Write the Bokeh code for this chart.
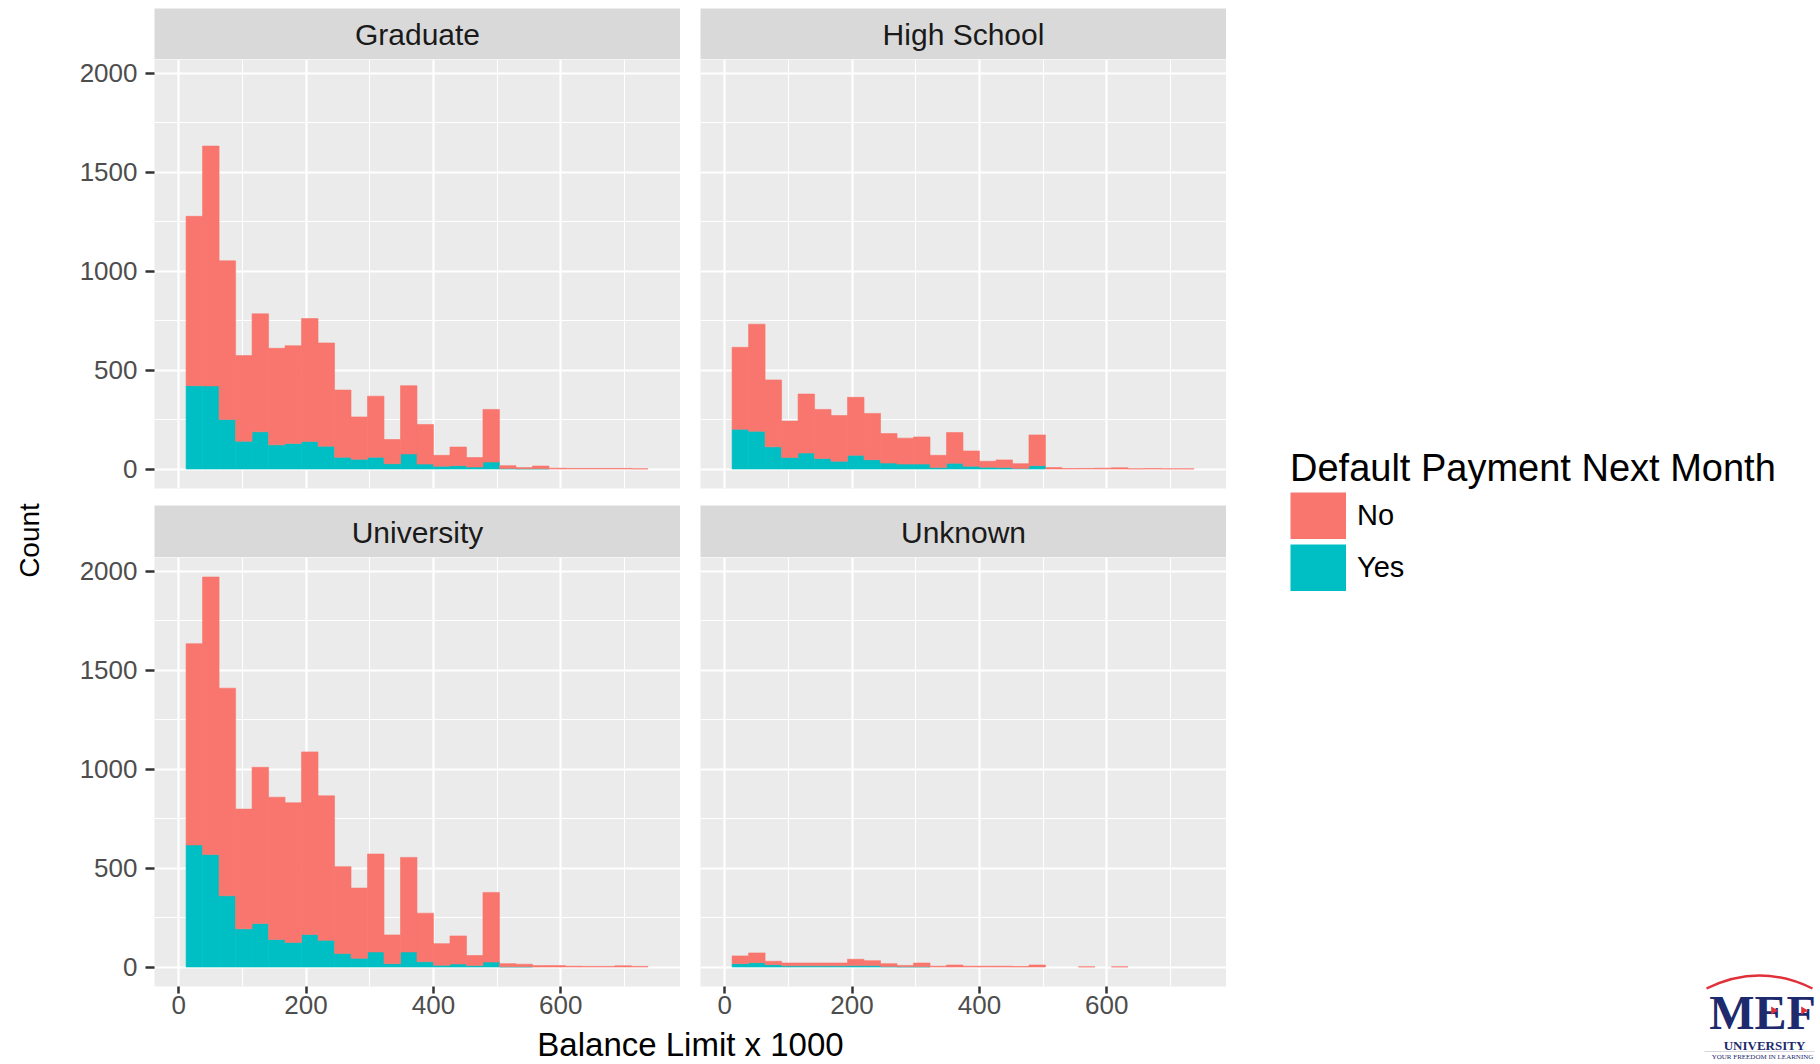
import numpy as np
from bokeh.plotting import figure
from bokeh.layouts import row, column
from bokeh.models import Range1d, FixedTicker, Legend, LegendItem, ColumnDataSource
from bokeh.core.properties import value
from bokeh.embed import file_html
from bokeh.resources import INLINE

# ---------------- data ----------------
FACETS = ["Graduate", "High School", "University", "Unknown"]
BIN_START = 11.6      # left edge of first histogram bin (x 1000)
BIN_WIDTH = 25.9      # histogram bin width (x 1000)

graduate_no = [856, 1212, 802, 433, 596, 488, 494, 621, 522, 340, 214, 309, 122, 345,
               200, 55, 94, 48, 266, 15, 6, 14, 4, 3, 3, 3, 3, 1]
graduate_yes = [421, 420, 250, 140, 188, 122, 129, 139, 115, 59, 49, 59, 27, 76,
                25, 14, 17, 10, 35, 2, 1, 1, 0, 0, 0, 0, 0, 0]

high_school_no = [414, 541, 338, 184, 298, 248, 231, 293, 234, 149, 131, 137, 62, 155,
                  77, 30, 39, 24, 155, 7, 2, 3, 4, 6, 1, 2, 1, 1]
high_school_yes = [201, 191, 112, 58, 81, 53, 39, 69, 47, 30, 25, 25, 7, 29,
                   14, 9, 7, 3, 17, 0, 0, 0, 0, 0, 0, 0, 0, 0]

university_no = [1017, 1403, 1049, 605, 789, 719, 706, 923, 730, 439, 355, 495, 145, 478,
                 245, 109, 142, 51, 352, 16, 13, 7, 7, 4, 3, 3, 6, 3]
university_yes = [617, 568, 360, 193, 220, 139, 124, 164, 135, 68, 44, 76, 17, 76,
                  27, 9, 15, 7, 25, 1, 1, 0, 0, 0, 0, 0, 0, 0]

unknown_no = [39, 49, 17, 14, 14, 14, 14, 32, 25, 15, 7, 19, 4, 10,
              4, 4, 4, 2, 10, 0, 0, 1, 0, 1, 0, 0, 0, 0]
unknown_yes = [17, 22, 12, 6, 6, 6, 6, 7, 7, 2, 1, 1, 0, 0,
               0, 0, 0, 0, 0, 0, 0, 0, 0, 0, 0, 0, 0, 0]

X_TICKS = [0, 200, 400, 600]
X_MINOR = [100, 300, 500, 700]
Y_TICKS = [0, 500, 1000, 1500, 2000]
Y_MINOR = [250, 750, 1250, 1750]
X_LIMITS = (-38, 788)

X_TITLE = "Balance Limit x 1000"
Y_TITLE = "Count"
LEGEND_TITLE = "Default Payment Next Month"
LEGEND_LABELS = ["No", "Yes"]

# ---------------- style / layout ----------------
RED = "#F8766D"
TEAL = "#00BFC4"
PANEL_BG = "#EBEBEB"
STRIP_BG = "#D9D9D9"
FONT = "Liberation Sans"
NAVY = "#1D2A6E"
LOGO_RED = "#E0313A"

TOTAL_H = 1062
TOP_PAD = 8
STRIP_H = 51
STRIP2_H = 52
FRAME_H = 429
ROW_GAP = 17
XAXIS_H = 39
FOOTER_H = TOTAL_H - (TOP_PAD + STRIP_H + FRAME_H + ROW_GAP + STRIP2_H + FRAME_H + XAXIS_H)
COUNT_W = 64
LEFT_W = 616
LEFT_BORDER = 90
RIGHT_W = 546
RIGHT_BORDER = 20
LEGEND_W = 592

series = {
    "Graduate": (graduate_no, graduate_yes),
    "High School": (high_school_no, high_school_yes),
    "University": (university_no, university_yes),
    "Unknown": (unknown_no, unknown_yes),
}

ymax = max(max(np.array(n) + np.array(y)) for n, y in series.values())
Y_LIMITS = (-0.05 * ymax, 1.05 * ymax)


def base_fig(**kw):
    return figure(toolbar_location=None, output_backend="svg", min_border=0,
                  outline_line_color=None, border_fill_color="white", **kw)


def panel(name, show_x, show_y):
    no, yes = series[name]
    no = np.array(no, dtype=float)
    yes = np.array(yes, dtype=float)
    n = len(no)
    edges = BIN_START + BIN_WIDTH * np.arange(n + 1)
    width = LEFT_W if show_y else RIGHT_W
    border_left = LEFT_BORDER if show_y else RIGHT_BORDER
    height = FRAME_H + (XAXIS_H if show_x else ROW_GAP)
    p = base_fig(width=width, height=height,
                 x_range=Range1d(*X_LIMITS), y_range=Range1d(*Y_LIMITS),
                 x_axis_location="below" if show_x else None,
                 y_axis_location="left" if show_y else None,
                 min_border_left=border_left,
                 min_border_bottom=XAXIS_H if show_x else ROW_GAP,
                 background_fill_color=PANEL_BG)
    src = ColumnDataSource(dict(left=edges[:-1], right=edges[1:], yes=yes, total=yes + no,
                                la_yes=(yes > 0).astype(float), la_no=(no > 0).astype(float)))
    p.quad(left="left", right="right", bottom=0, top="yes", source=src,
           fill_color=TEAL, line_color=TEAL, line_width=0.6, line_alpha="la_yes")
    p.quad(left="left", right="right", bottom="yes", top="total", source=src,
           fill_color=RED, line_color=RED, line_width=0.6, line_alpha="la_no")

    p.xgrid.ticker = FixedTicker(ticks=X_TICKS, minor_ticks=X_MINOR)
    p.ygrid.ticker = FixedTicker(ticks=Y_TICKS, minor_ticks=Y_MINOR)
    p.grid.grid_line_color = "white"
    p.grid.grid_line_width = 2.2
    p.grid.minor_grid_line_color = "white"
    p.grid.minor_grid_line_width = 1.1

    for show, axes, ticks, minor, tick_out, standoff in (
            (show_x, p.xaxis, X_TICKS, X_MINOR, 7, 2),
            (show_y, p.yaxis, Y_TICKS, Y_MINOR, 9, 8)):
        if not show:
            continue
        ax = axes[0]
        ax.ticker = FixedTicker(ticks=ticks, minor_ticks=minor)
        ax.axis_line_color = None
        ax.major_tick_line_color = "#333333"
        ax.major_tick_line_width = 2.5
        ax.major_tick_out = tick_out
        ax.major_tick_in = 0
        ax.minor_tick_line_color = None
        ax.major_label_standoff = standoff
        ax.major_label_text_font = FONT
        ax.major_label_text_font_size = "26px"
        ax.major_label_text_color = "#4D4D4D"
    return p


def strip(label, left, height, top_pad):
    s = base_fig(width=LEFT_W if left else RIGHT_W, height=height + top_pad,
                 x_range=Range1d(0, 1), y_range=Range1d(0, 1),
                 x_axis_location=None, y_axis_location=None,
                 min_border_left=LEFT_BORDER if left else RIGHT_BORDER,
                 min_border_top=top_pad,
                 background_fill_color=STRIP_BG)
    s.grid.visible = False
    s.text(x=[0.5], y=[0.49], text=[label], text_align="center", text_baseline="middle",
           text_font=value(FONT), text_font_size="30px", text_color="#1A1A1A")
    return s


def fy(page_y):
    return TOTAL_H - page_y


# ---------------- panels ----------------
g = panel("Graduate", show_x=False, show_y=True)
hs = panel("High School", show_x=False, show_y=False)
u = panel("University", show_x=True, show_y=True)
uk = panel("Unknown", show_x=True, show_y=False)

s_g = strip("Graduate", True, STRIP_H, TOP_PAD)
s_hs = strip("High School", False, STRIP_H, TOP_PAD)
s_u = strip("University", True, STRIP2_H, 0)
s_uk = strip("Unknown", False, STRIP2_H, 0)

# footer with x title (centred under both panel columns)
fx0 = COUNT_W
footer = base_fig(width=LEFT_W + RIGHT_W, height=FOOTER_H,
                  x_range=Range1d(fx0, fx0 + LEFT_W + RIGHT_W),
                  y_range=Range1d(0, FOOTER_H),
                  x_axis_location=None, y_axis_location=None)
footer.grid.visible = False
footer.text(x=[(fx0 + LEFT_BORDER + fx0 + LEFT_W + RIGHT_W) / 2], y=[FOOTER_H / 2],
            text=[X_TITLE], text_align="center", text_baseline="middle",
            text_font=value(FONT), text_font_size="33px", text_color="black")

# left column with y title
count_fig = base_fig(width=COUNT_W, height=TOTAL_H,
                     x_range=Range1d(0, COUNT_W), y_range=Range1d(0, TOTAL_H),
                     x_axis_location=None, y_axis_location=None)
count_fig.grid.visible = False
count_fig.text(x=[29], y=[fy(540)], text=[Y_TITLE], angle=np.pi / 2,
               text_align="center", text_baseline="middle",
               text_font=value(FONT), text_font_size="28px", text_color="black")

# right column: legend + logo
lx0 = COUNT_W + LEFT_W + RIGHT_W
leg = base_fig(width=LEGEND_W, height=TOTAL_H,
               x_range=Range1d(lx0, lx0 + LEGEND_W), y_range=Range1d(0, TOTAL_H),
               x_axis_location=None, y_axis_location=None)
leg.grid.visible = False
# legend-only renderers (a single NaN point: nothing is drawn in the plot area);
# a thick line key fills the whole key box like ggplot's square keys
KEY_W, KEY_H = 56, 47
r_no = leg.line(x=[np.nan], y=[np.nan], line_color=RED, line_width=KEY_H, line_cap="butt")
r_yes = leg.line(x=[np.nan], y=[np.nan], line_color=TEAL, line_width=KEY_H, line_cap="butt")
legend = Legend(items=[LegendItem(label=LEGEND_LABELS[0], renderers=[r_no]),
                       LegendItem(label=LEGEND_LABELS[1], renderers=[r_yes])],
                title=LEGEND_TITLE, location=(1290 - lx0, fy(591)),
                glyph_width=KEY_W, glyph_height=KEY_H, spacing=5, label_standoff=11,
                padding=0, margin=0, title_standoff=2,
                border_line_color=None, background_fill_alpha=0,
                title_text_font=FONT, title_text_font_size="38px", title_text_color="black",
                title_text_font_style="normal",
                label_text_font=FONT, label_text_font_size="29px", label_text_color="black")
leg.add_layout(legend, "center")

# logo (MEF University)
leg.quadratic(x0=[1706], y0=[fy(988)], x1=[1812], y1=[fy(988)], cx=[1759], cy=[fy(962)],
              line_color=LOGO_RED, line_width=2.5)
leg.text(x=[1762], y=[fy(1012)], text=["MEF"], text_align="center", text_baseline="middle",
         text_font=value("Liberation Serif"), text_font_style="bold", text_font_size="48px",
         text_color=NAVY)
leg.scatter(x=[1773, 1803], y=[fy(1010), fy(1010)], marker="triangle", size=8,
            angle=-np.pi / 2, fill_color=LOGO_RED, line_color=None)
leg.text(x=[1764], y=[fy(1045)], text=["UNIVERSITY"], text_align="center",
         text_baseline="middle", text_font=value("Liberation Serif"), text_font_style="bold",
         text_font_size="13px", text_color=NAVY)
leg.segment(x0=[1704], y0=[fy(1051)], x1=[1814], y1=[fy(1051)],
            line_color="#D5D5DD", line_width=1)
leg.text(x=[1762], y=[fy(1056)], text=["YOUR FREEDOM IN LEARNING"], text_align="center",
         text_baseline="middle", text_font=value("Liberation Serif"),
         text_font_size="7px", text_color=NAVY)

panels = column(row(s_g, s_hs), row(g, hs), row(s_u, s_uk), row(u, uk), footer)
layout = row(count_fig, panels, leg)

open("out.html", "w").write(file_html(layout, INLINE))
